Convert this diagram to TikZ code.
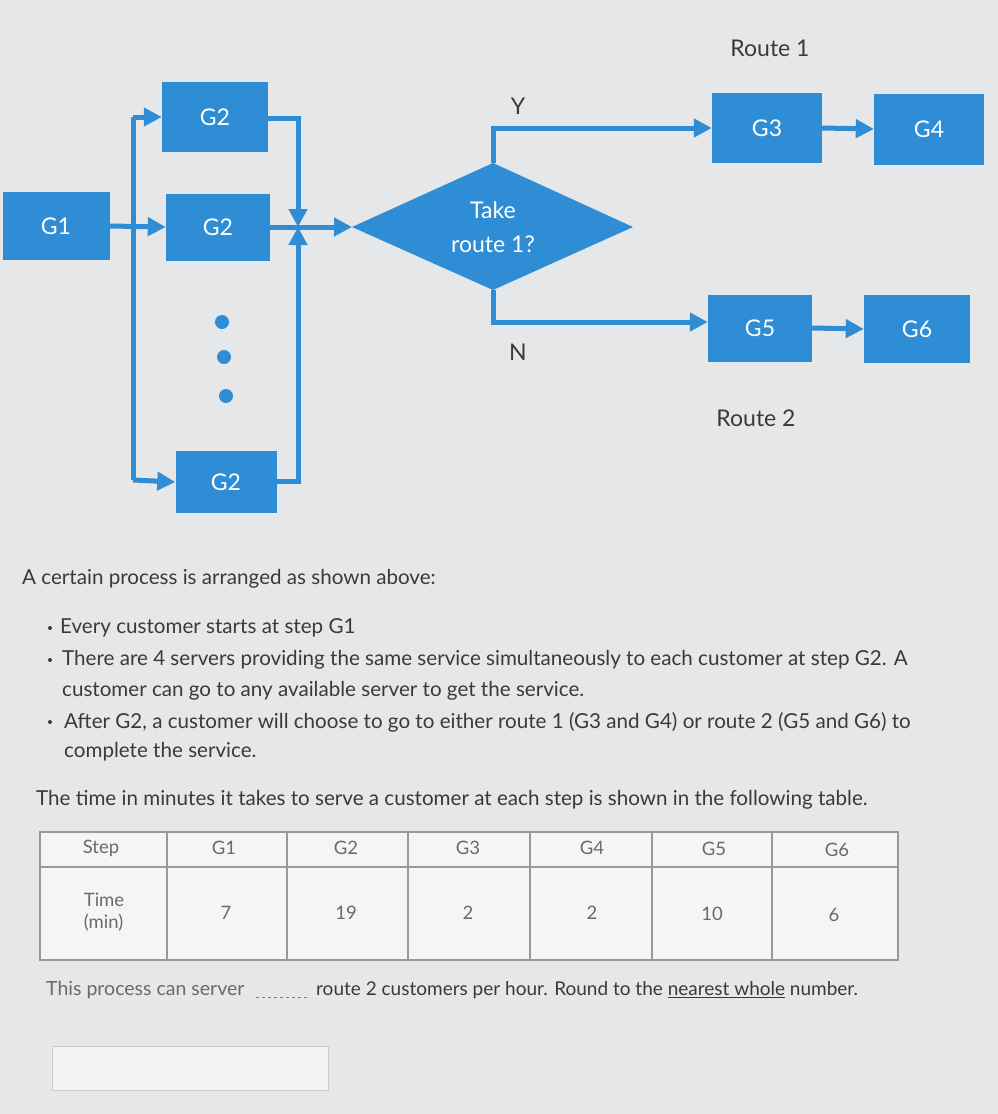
\documentclass[tikz,border=0pt]{standalone}
\usepackage{fontspec}
\setmainfont{Lato}
\usetikzlibrary{arrows.meta}
\definecolor{bl}{HTML}{2F8DD6}
\definecolor{bg}{HTML}{E6E7E9}
\definecolor{tx}{HTML}{3A3A3A}
\definecolor{gt}{HTML}{6A6A6A}
\tikzset{
  gbox/.style={fill=bl,draw=none,text=white,font=\fontsize{23}{25}\selectfont,inner sep=0pt},
  conn/.style={draw=bl,line width=5pt,-{Triangle[length=18pt,width=18pt]}},
  plain/.style={draw=bl,line width=5pt},
  lbl/.style={font=\fontsize{23}{25}\selectfont,text=tx},
  body/.style={font=\fontsize{20.6}{22}\selectfont,text=tx,anchor=west,inner sep=0pt},
  cell/.style={font=\fontsize{18.5}{22}\selectfont,text=gt}
}
\begin{document}
\begin{tikzpicture}[x=1pt,y=-1pt]
\useasboundingbox (0,0) rectangle (998,1114);
\fill[bg] (0,0) rectangle (998,1114);
% boxes
\node[gbox,minimum width=107pt,minimum height=68pt] (g1) at (56,226) {G1};
\node[gbox,minimum width=106pt,minimum height=70pt] (g2a) at (215,117) {G2};
\node[gbox,minimum width=104pt,minimum height=67pt] (g2b) at (218,227) {G2};
\node[gbox,minimum width=101pt,minimum height=62pt] (g2c) at (226,482) {G2};
\node[gbox,minimum width=110pt,minimum height=70pt] (g3) at (767,128) {G3};
\node[gbox,minimum width=110pt,minimum height=71pt] (g4) at (929,129) {G4};
\node[gbox,minimum width=104pt,minimum height=67pt] (g5) at (760,328) {G5};
\node[gbox,minimum width=106pt,minimum height=68pt] (g6) at (917,329) {G6};
\fill[bl] (222,322) circle (7pt) (224,357) circle (7pt) (226,396) circle (7pt);
% diamond
\fill[bl] (352,227) -- (493,163) -- (633,227) -- (493,290) -- cycle;
\node[gbox,fill=none,align=center,font=\fontsize{23}{34}\selectfont] (d) at (493,227) {Take\\route 1?};
\coordinate (dl) at (352,227); \coordinate (dt) at (493,163); \coordinate (db) at (493,290);
\coordinate (bl1) at (133,117); \coordinate (bl2) at (133,480);
\coordinate (j) at (298,227);
% left bus
\draw[plain] (bl1) -- (bl2);
\draw[conn] (g1.east) -- (g2b.west);
\draw[conn] (bl1) -- (g2a.west);
\draw[conn] (bl2) -- (g2c.west);
% right bus
\draw[conn] (g2a.east |- 0,118) -| (j);
\draw[conn] (g2c.east |- 0,481) -| (j);
\draw[conn] (g2b.east) -- (dl);
% branches
\draw[conn] (dt) |- (g3.west);
\draw[conn] (db) |- (g5.west |- 0,322);
\draw[conn] (g3.east) -- (g4.west);
\draw[conn] (g5.east) -- (g6.west);
\node[lbl] (y) at (518,106) {Y};
\node[lbl] (n) at (518,352) {N};
\node[lbl] (r1) at (770,48) {Route 1};
\node[lbl] (r2) at (756,418) {Route 2};
% text
\node[body] (t0) at (22,579) {A certain process is arranged as shown above:};
\foreach \yy in {628,660,722} \fill[tx] (50,\yy) circle (2pt);
\node[body] (t1) at (60,628) {Every customer starts at step G1};
\node[body] (t2) at (62,660) {There are 4 servers providing the same service simultaneously to each customer at step G2. A};
\node[body] (t3) at (62,691) {customer can go to any available server to get the service.};
\node[body] (t4) at (64,722) {After G2, a customer will choose to go to either route 1 (G3 and G4) or route 2 (G5 and G6) to};
\node[body] (t5) at (64,752) {complete the service.};
\node[body] (t6) at (36,800) {The time in minutes it takes to serve a customer at each step is shown in the following table.};
% table
\fill[white!60!bg] (40,832) rectangle (898,960);
\draw[gray!80,line width=1.2pt] (40,832) rectangle (898,960) (40,867) -- (898,867);
\foreach \xx in {167,287,408,530,652,772} \draw[gray!80,line width=1.2pt] (\xx,832) -- (\xx,960);
\node[cell] (h0) at (101,848) {Step};
\node[cell] (h1) at (224,848) {G1};
\node[cell] (h2) at (346,848) {G2};
\node[cell] (h3) at (468,848) {G3};
\node[cell] (h4) at (592,848) {G4};
\node[cell] (h5) at (714,849) {G5};
\node[cell] (h6) at (837,850) {G6};
\node[cell,align=left] (v0) at (104,912) {Time\\(min)};
\node[cell] (v1) at (226,913) {7};
\node[cell] (v2) at (346,913) {19};
\node[cell] (v3) at (468,913) {2};
\node[cell] (v4) at (592,913) {2};
\node[cell] (v5) at (712,914) {10};
\node[cell] (v6) at (834,915) {6};
\node[body,font=\fontsize{19.5}{20}\selectfont,text=gt] (b1) at (46,990) {This process can server};
\draw[gray,dashed] (256,997) -- (310,997);
\node[body,font=\fontsize{19}{20}\selectfont] (b2) at (316,990) {route 2 customers per hour. Round to the \underline{nearest whole} number.};
\draw[gray!40,fill=white!50!bg] (52,1046) rectangle (328,1090);
\end{tikzpicture}
\end{document}
